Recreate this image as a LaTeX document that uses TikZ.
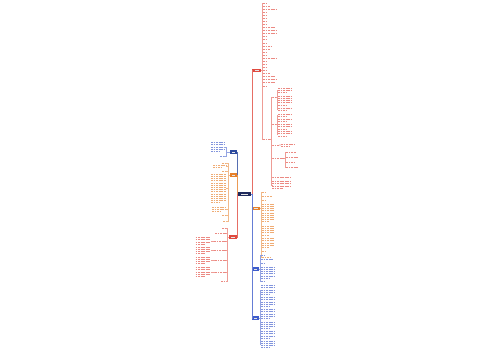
\documentclass[tikz,border=0pt]{standalone}
\usetikzlibrary{positioning}

\definecolor{rootblue}{HTML}{1F2A5C}
\definecolor{mred}{HTML}{E04A3F}
\definecolor{morange}{HTML}{E6802A}
\definecolor{mblue}{HTML}{3E5CCB}
\definecolor{mdblue}{HTML}{2C4A9E}

\tikzset{
  topic/.style={fill=#1, inner sep=0pt, minimum height=0.075cm},
  blank/.style={inner sep=0pt, outer sep=0pt},
  txt/.style={#1!65, line width=0.4pt, dash pattern=on 1.1pt off 0.35pt},
  branch/.style={#1!55, line width=0.3pt},
  trunk/.style={#1!80, line width=0.45pt},
}

% white "label" inside a filled topic box
\newcommand{\wtxt}[1]{\textcolor{white!80!gray}{\rule{#1}{0.3pt}}}

% text block hanging to the right of its connector: name, x left, y top, width, lines, colour
\newcommand{\txtR}[6]{%
  \node[blank, anchor=north west, minimum width=#4*0.02cm, minimum height=#5*0.044cm] (#1) at (#2,#3) {};
  \foreach \k in {1,...,#5}{%
    \pgfmathsetmacro{\linelen}{(\k==#5 && #5>1) ? 0.6*#4 : #4}%
    \draw[txt=#6] (#2,{#3+(\k-0.5)*2.2}) -- ++(\linelen,0);
  }}
% same, hanging to the left: name, x right, y top, width, lines, colour
\newcommand{\txtL}[6]{%
  \node[blank, anchor=north east, minimum width=#4*0.02cm, minimum height=#5*0.044cm] (#1) at (#2,#3) {};
  \foreach \k in {1,...,#5}{%
    \pgfmathsetmacro{\linelen}{(\k==#5 && #5>1) ? 0.6*#4 : #4}%
    \draw[txt=#6] ({#2-#4},{#3+(\k-0.5)*2.2}) -- ++(\linelen,0);
  }}

\begin{document}
\begin{tikzpicture}[x=0.02cm, y=-0.02cm]

    % canvas, 500 x 360
    \fill[white] (0,0) rectangle (500,360);
    \useasboundingbox (0,0) rectangle (500,360);

    % ==========================================
    % ROOT AND MAIN TOPICS
    % ==========================================
    \node[topic=rootblue, minimum width=0.26cm, minimum height=0.085cm] (root) at (244.5,194) {\wtxt{0.14cm}};

    \node[topic=mred,    minimum width=0.18cm] (r1) at (256.5,70.5) {\wtxt{0.08cm}};
    \node[topic=morange, minimum width=0.16cm] (r2) at (256,208.5)  {\wtxt{0.07cm}};
    \node[topic=mblue,   minimum width=0.14cm] (r3) at (255.5,269)  {\wtxt{0.06cm}};
    \node[topic=mblue,   minimum width=0.14cm] (r4) at (255.5,318)  {\wtxt{0.06cm}};

    \node[topic=mdblue,  minimum width=0.14cm] (l1) at (233.5,152)  {\wtxt{0.06cm}};
    \node[topic=morange, minimum width=0.14cm] (l2) at (233.5,175)  {\wtxt{0.06cm}};
    \node[topic=mred,    minimum width=0.16cm] (l3) at (233,237)    {\wtxt{0.07cm}};

    \draw[trunk=mred]    (root.east) -- ++(0.6,0) |- (r1.west);
    \draw[trunk=morange] (root.east) -- ++(0.6,0) |- (r2.west);
    \draw[trunk=mblue]   (root.east) -- ++(0.6,0) |- (r3.west);
    \draw[trunk=mblue]   (root.east) -- ++(0.6,0) |- (r4.west);
    \draw[trunk=mdblue]  (root.west) -- ++(-0.6,0) |- (l1.east);
    \draw[trunk=morange] (root.west) -- ++(-0.6,0) |- (l2.east);
    \draw[trunk=mred]    (root.west) -- ++(-0.6,0) |- (l3.east);

    % ==========================================
    % RIGHT: red topic (top)
    % ==========================================
    \foreach \w [count=\i from 0] in {5,7,14,3,3,3,3,3,12,13,14,3,5,5,8,7,5,3,14,3,3,3,3,7,12,13,12,3}{
        \pgfmathsetmacro{\yt}{1.9+3.07*\i}
        \txtR{r1i\i}{263}{\yt}{\w}{1}{mred}
        \draw[branch=mred] (r1.east) -- ++(1,0) |- (r1i\i.west);
    }
    \txtR{r1a}{263}{138}{7}{1}{mred}
    \draw[branch=mred] (r1.east) -- ++(1,0) |- (r1a.west);

    \foreach \nm/\yt/\w/\n in {c1/95.9/4/1, c2/122.9/4/1, c3/143.9/7/1, c4/156.9/12/1, c5/175.9/18/1, c6/180.5/18/4}{
        \txtR{\nm}{272}{\yt}{\w}{\n}{mred}
        \draw[branch=mred] (r1a.east) -- ++(1.5,0) |- (\nm.west);
    }
    \foreach \nm/\yt/\n in {c1a/87/3, c1b/95/5, c1c/107.5/2}{
        \txtR{\nm}{278}{\yt}{13}{\n}{mred}
        \draw[branch=mred] (c1.east) -- ++(1,0) |- (\nm.west);
    }
    \foreach \nm/\yt/\n in {c2a/113.5/2, c2b/118.5/2, c2c/123.5/3, c2d/130.5/3}{
        \txtR{\nm}{278}{\yt}{13}{\n}{mred}
        \draw[branch=mred] (c2.east) -- ++(1,0) |- (\nm.west);
    }
    \txtR{c3a}{281}{142.8}{13}{2}{mred}
    \draw[branch=mred] (c3.east) -- (c3a.west);
    \foreach \nm/\yt/\w in {c4a/150.9/10, c4b/155.9/12, c4c/160.9/9, c4d/165.9/12}{
        \txtR{\nm}{286}{\yt}{\w}{1}{mred}
        \draw[branch=mred] (c4.east) -- ++(1,0) |- (\nm.west);
    }

    % ==========================================
    % RIGHT: orange topic
    % ==========================================
    \foreach \nm/\yt/\w/\n in {o1/190.9/4/1, o2/194.9/10/1, o3/198.9/4/1, o4/203/12/9,
                               o5/225/12/5, o6/237.5/12/5, o7/249.9/4/1, o8/255.9/8/1}{
        \txtR{\nm}{262}{\yt}{\w}{\n}{morange}
        \draw[branch=morange] (r2.east) -- ++(1,0) |- (\nm.west);
    }

    % ==========================================
    % RIGHT: blue topics
    % ==========================================
    \foreach \nm/\yt/\w/\n in {b1/253.9/4/1, b2/257.9/12/1, b3/261.9/5/1, b4/266/13/6, b5/280.4/4/1}{
        \txtR{\nm}{261}{\yt}{\w}{\n}{mblue}
        \draw[branch=mblue] (r3.east) -- ++(1,0) |- (\nm.west);
    }
    \foreach \nm/\yt/\n in {d1/284.5/5, d2/296.5/5, d3/308.5/5, d4/321/4, d5/330.5/4, d6/340/4}{
        \txtR{\nm}{261}{\yt}{14}{\n}{mblue}
        \draw[branch=mblue] (r4.east) -- ++(1,0) |- (\nm.west);
    }

    % ==========================================
    % LEFT: blue, orange and red topics
    % ==========================================
    \txtL{lb1}{224}{141.5}{13}{5}{mblue}
    \txtL{lb2}{224}{154.9}{4}{1}{mblue}
    \draw[branch=mblue] (l1.west) -- ++(-3,0) |- (lb1.east);
    \draw[branch=mblue] (l1.west) -- ++(-3,0) |- (lb2.east);

    \foreach \nm/\yt/\w/\n in {lo1/161.9/4/1, lo2/164.5/13/2, lo3/169.9/4/1, lo4/173/15/14,
                               lo5/206/14/3, lo6/214.4/4/1, lo7/220.4/3/1}{
        \txtL{\nm}{226}{\yt}{\w}{\n}{morange}
        \draw[branch=morange] (l2.west) -- ++(-1.5,0) |- (\nm.east);
    }

    \foreach \nm/\yt/\w in {lr2/226.9/4, lr3/231.9/11, lr4/239.9/12, lr5/248.9/12,
                            lr6/258.9/11, lr7/270.9/11, lr8/279.9/5}{
        \txtL{\nm}{226}{\yt}{\w}{1}{mred}
        \draw[branch=mred] (l3.west) -- ++(-1.5,0) |- (\nm.east);
    }
    \foreach \sb/\nm/\yt/\n in {lr4/lr4a/236.5/4, lr5/lr5a/246/4, lr6/lr6a/256/4, lr7/lr7a/266.5/5}{
        \txtL{\nm}{210.5}{\yt}{15}{\n}{mred}
        \draw[branch=mred] (\sb.west) -- ++(-1.5,0) |- (\nm.east);
    }

\end{tikzpicture}
\end{document}
